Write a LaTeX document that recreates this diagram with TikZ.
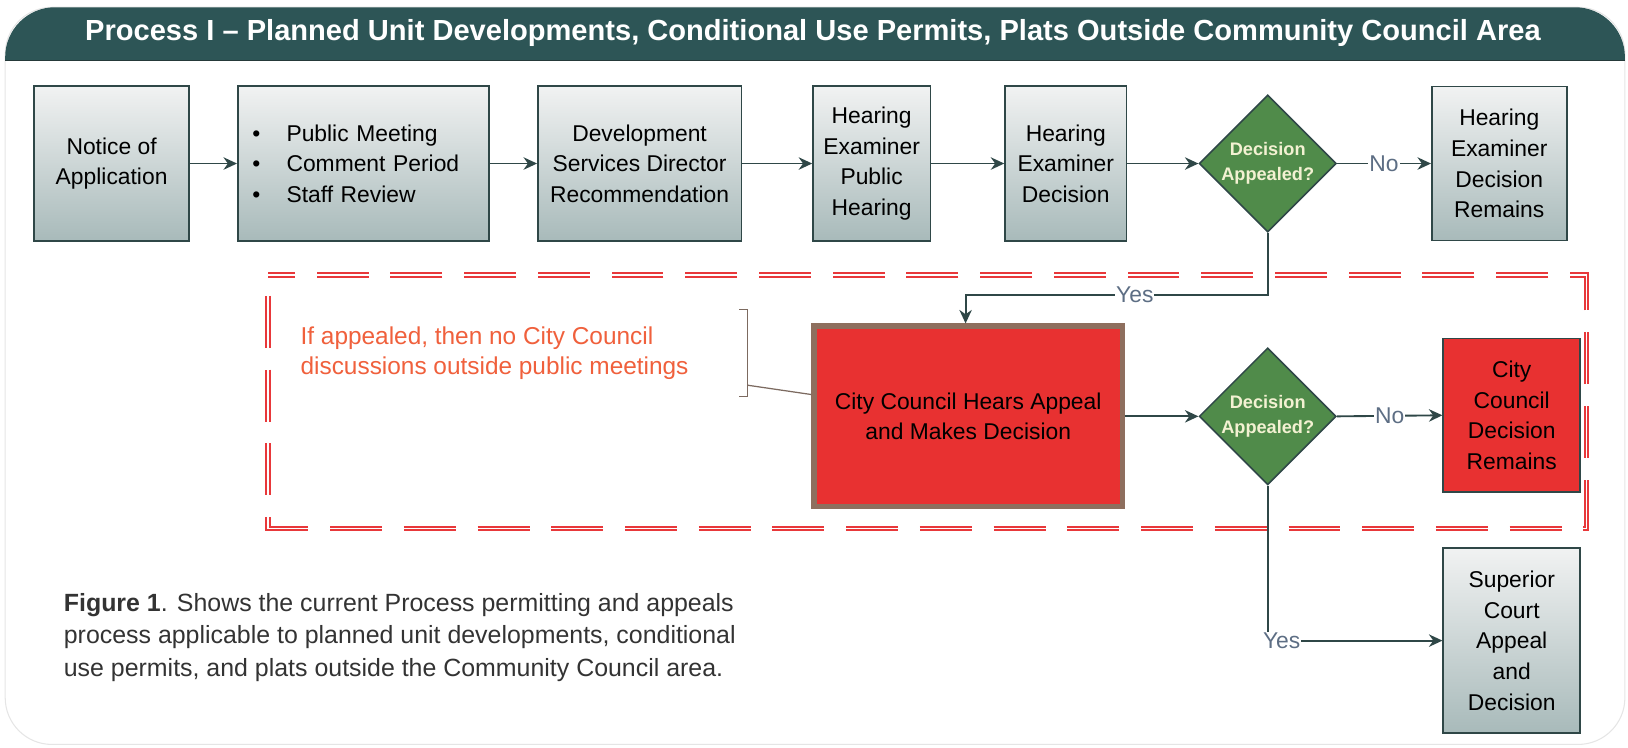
\documentclass[tikz,border=0pt]{standalone}
\usepackage{fontspec}
\setmainfont{Liberation Sans}
\usetikzlibrary{arrows.meta,shapes.geometric,calc}
\definecolor{hdr}{HTML}{2D5556}
\definecolor{edgec}{HTML}{2F4747}
\definecolor{boxtop}{HTML}{F1F2F2}
\definecolor{boxbot}{HTML}{A8BABA}
\definecolor{dgreen}{HTML}{508B4A}
\definecolor{dtext}{HTML}{F3F1D2}
\definecolor{cred}{HTML}{E83131}
\definecolor{brdbrown}{HTML}{8E6F5E}
\definecolor{lbl}{HTML}{5D6E84}
\definecolor{orng}{HTML}{F0603C}
\definecolor{redline}{HTML}{E8383A}
\definecolor{brack}{HTML}{7C6A60}
\definecolor{captext}{HTML}{333333}
\tikzset{
  graybox/.style={draw=edgec, line width=1.5pt, top color=boxtop, bottom color=boxbot,
    align=center, inner sep=0pt, font=\fontsize{22}{29.5}\selectfont},
  redbox/.style={draw=edgec, line width=1.5pt, fill=cred,
    align=center, inner sep=0pt, font=\fontsize{22}{29.5}\selectfont},
  dec/.style={diamond, draw=edgec, line width=1.5pt, fill=dgreen, text=dtext,
    minimum width=132, minimum height=132, inner sep=0pt, align=center,
    font=\bfseries\fontsize{17.5}{24}\selectfont},
  flow/.style={draw=edgec, line width=1.8pt, -{Stealth[length=13pt,width=12pt]}},
  lab/.style={fill=white, inner sep=1pt, text=lbl, font=\fontsize{22}{26}\selectfont},
}
\begin{document}
\begin{tikzpicture}[x=1pt,y=-1pt]
\useasboundingbox (0,0) rectangle (1568,720);
% frame
\draw[gray!20, line width=1pt, fill=white, rounded corners=45] (5,7) rectangle (1565,717);
\begin{scope}
  \clip (0,0) rectangle (1568,58);
  \fill[hdr, rounded corners=48] (5,7) rectangle (1565,200);
\end{scope}
\draw[edgec!80!black, line width=1pt] (5,58) -- (1565,58);
\node[text=white, font=\bfseries\fontsize{28}{32}\selectfont] (title) at (783,32)
  {Process I – Planned Unit Developments, Conditional Use Permits, Plats Outside Community Council Area};

% dashed region
\draw[draw=redline, double=white, double distance=1.4pt, line width=2pt, dash pattern=on 50pt off 21pt, dash phase=-20pt]
  (258,265) rectangle (1528,509);

% top row
\node[graybox, minimum width=149, minimum height=149] (n1) at (107.5,157.5) {Notice of\\Application};
\node[graybox, minimum width=242, minimum height=149, text width=226, align=left] (n2) at (350,157.5)
  {\hspace*{6pt}\makebox[33pt][l]{\textbullet}Public Meeting\\
   \hspace*{6pt}\makebox[33pt][l]{\textbullet}Comment Period\\
   \hspace*{6pt}\makebox[33pt][l]{\textbullet}Staff Review};
\node[graybox, minimum width=196, minimum height=149] (n3) at (616,157.5) {Development\\Services Director\\Recommendation};
\node[graybox, minimum width=113, minimum height=149] (n4) at (839.5,157.5) {Hearing\\Examiner\\Public\\Hearing};
\node[graybox, minimum width=117, minimum height=149] (n5) at (1026.5,157.5) {Hearing\\Examiner\\Decision};
\node[dec] (d1) at (1221,157.5) {Decision\\Appealed?};
\node[graybox, minimum width=130, minimum height=148] (n6) at (1444,157.5) {Hearing\\Examiner\\Decision\\Remains};

% second row
\node[redbox, draw=brdbrown, line width=5pt, minimum width=297, minimum height=174] (cc) at (932.5,401)
  {City Council Hears Appeal\\and Makes Decision};
\node[dec] (d2) at (1221,401) {Decision\\Appealed?};
\node[redbox, minimum width=132, minimum height=148] (ccr) at (1456,400) {City\\Council\\Decision\\Remains};
\node[graybox, minimum width=132, minimum height=178] (sup) at (1456,617) {Superior\\Court\\Appeal\\and\\Decision};

% note
\node[anchor=west, text=orng, align=left, font=\fontsize{23.5}{29}\selectfont] (note) at (286,340.5)
  {If appealed, then no City Council\\discussions outside public meetings};
\coordinate (bt) at (720,298);
\coordinate (bb) at (720,382);
\coordinate (bk) at (720,371);
\draw[brack, line width=1.2pt] ($(bt)+(-8,0)$) -- (bt) -- (bb) -- ($(bb)+(-8,0)$);
\draw[brack, line width=1.2pt] (bk) -- ($(cc.west)+(0,-21)$);

% caption
\node[anchor=west, align=left, text=captext, font=\fontsize{24}{31}\selectfont] (cap) at (58,614)
  {\textbf{Figure 1}. Shows the current Process permitting and appeals\\
   process applicable to planned unit developments, conditional\\
   use permits, and plats outside the Community Council area.};

% connectors
\draw[flow] (n1) -- (n2);
\draw[flow] (n2) -- (n3);
\draw[flow] (n3) -- (n4);
\draw[flow] (n4) -- (n5);
\draw[flow] (n5) -- (d1);
\draw[flow] (d1.east) -- node[lab]{No} (n6.west);
\coordinate (y1) at (930,284);
\draw[flow] (d1.south) |- node[lab, pos=0.72]{Yes} (y1) -- (y1 |- cc.north);
\draw[flow] (cc.east) -- (d2.west);
\draw[flow] (d2.east) -- node[lab]{No} (ccr.west);
\draw[flow] (d2.south) |- node[lab, pos=0.54]{Yes} (sup.west);
\end{tikzpicture}
\end{document}
